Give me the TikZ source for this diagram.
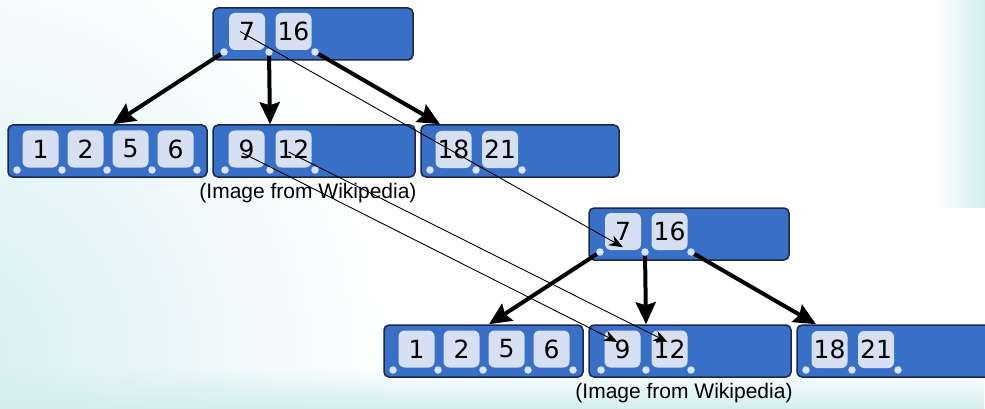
\documentclass[tikz,border=0pt]{standalone}
\usepackage{fontspec}
\setmainfont{Liberation Sans}
\newfontfamily\keyfont{DejaVu Sans}
\usetikzlibrary{arrows.meta}
\usetikzlibrary{fadings}
\definecolor{nodeblue}{RGB}{56,112,200}
\definecolor{nodeedge}{RGB}{28,40,70}
\definecolor{keyfill}{RGB}{214,224,242}
\definecolor{dotfill}{RGB}{216,226,244}
\definecolor{bgcyan}{RGB}{212,238,240}
\tikzfading[name=fadetop,top color=transparent!100,bottom color=transparent!0]
\tikzfading[name=fadeleft,left color=transparent!100,right color=transparent!0]
\tikzset{
  >=Stealth,
  bnode/.style={draw=nodeedge,fill=nodeblue,line width=1.5pt,rounded corners=5pt,minimum height=52pt,inner sep=0pt},
  bkey/.style={fill=keyfill,rounded corners=6pt,minimum width=36pt,minimum height=37pt,inner sep=0pt,font=\keyfont\fontsize{25}{25}\selectfont},
  bdot/.style={circle,fill=dotfill,inner sep=0pt,minimum size=7.5pt},
  treeline/.style={draw=black,line width=4pt,-{Stealth[length=22pt,width=20pt,inset=3pt]}},
  thinline/.style={draw=black,line width=0.9pt,-{Stealth[length=14pt,width=11pt]}},
  caption/.style={font=\fontsize{21}{21}\selectfont},
  pics/bptree/.style={code={
    \node (-top) at (313,34) [bnode,minimum width=200pt] {};
    \node (-la) at (107.5,151) [bnode,minimum width=199pt] {};
    \node (-lb) at (314,151) [bnode,minimum width=202pt] {};
    \node (-lc) at (520,151) [bnode,minimum width=198pt] {};
    % keys
    \node (-k7) at (247,31.5) [bkey] {7};
    \node (-k16) at (293.5,31.5) [bkey] {16};
    \node (-k1) at (40.5,149) [bkey] {1};
    \node (-k2) at (85.5,149) [bkey] {2};
    \node (-k5) at (130.5,149) [bkey] {5};
    \node (-k6) at (175.5,149) [bkey] {6};
    \node (-k9) at (246.5,149) [bkey] {9};
    \node (-k12) at (293.5,149) [bkey] {12};
    \node (-k18) at (453.5,149.5) [bkey] {18};
    \node (-k21) at (500,149.5) [bkey] {21};
    % pointer dots
    \node (-td1) at (224,52) [bdot] {}; \node (-td2) at (269,52) [bdot] {};
    \node (-td3) at (315,52) [bdot] {};
    \node (-ad1) at (17,170) [bdot] {}; \node (-ad2) at (62,170) [bdot] {};
    \node (-ad3) at (107,170) [bdot] {}; \node (-ad4) at (152,170) [bdot] {};
    \node (-ad5) at (197,170) [bdot] {};
    \node (-bd1) at (225,170) [bdot] {}; \node (-bd2) at (270,170) [bdot] {};
    \node (-bd3) at (315,170) [bdot] {};
    \node (-cd1) at (430,170) [bdot] {}; \node (-cd2) at (476,170) [bdot] {};
    \node (-cd3) at (522,170) [bdot] {};
    \draw [treeline] (-td1) -- ([xshift=5.5pt]-la.north);
    \draw [treeline] (-td2) -- ([xshift=-44pt]-lb.north);
    \draw [treeline] (-td3) -- ([xshift=-80pt]-lc.north);
    \node (-cap) at (308,193) [caption] {(Image from Wikipedia)};
  }}
}
\begin{document}
\begin{tikzpicture}[x=1pt,y=-1pt]
  \useasboundingbox (0,0) rectangle (985,409);
  \begin{scope}
    \clip (0,0) rectangle (985,409);
    \fill [white] (0,0) rectangle (985,409);
    \shade [inner color=bgcyan,outer color=white] (-60,360) circle (460);
    \fill [bgcyan,path fading=fadetop] (0,368) rectangle (985,409);
    \fill [bgcyan,path fading=fadeleft] (935,0) rectangle (985,208);
  \end{scope}
  \pic (a) at (0,0) {bptree};
  \pic (b) at (376,200) {bptree};
  % moved entries
  \draw [thinline] ([xshift=-7pt]a-k7.center) -- ([yshift=3pt]b-k7.south);
  \draw [thinline] ([xshift=-4pt,yshift=-4pt]a-k9.center) -- ([xshift=-5pt,yshift=7pt]b-k9.center);
  \draw [thinline] ([xshift=-5pt,yshift=-3pt]a-k12.center) -- ([xshift=-2pt,yshift=7pt]b-k12.center);
\end{tikzpicture}
\end{document}
